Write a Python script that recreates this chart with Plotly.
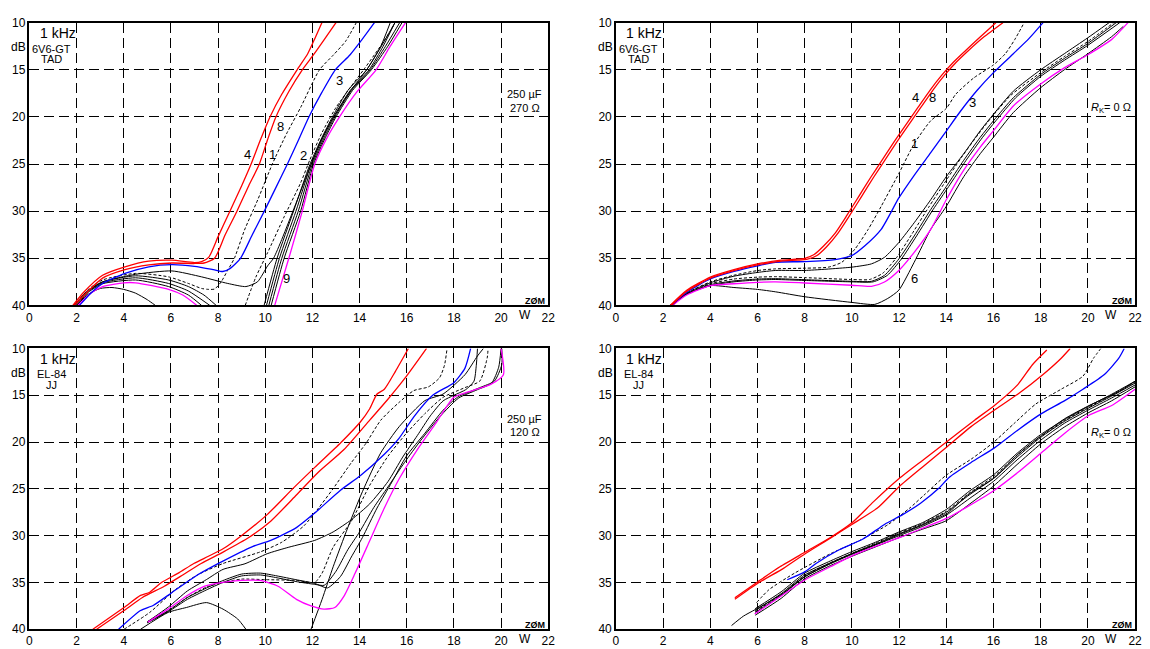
import plotly.graph_objects as go

# ---------------- ticks ----------------
x_ticks = [0, 2, 4, 6, 8, 10, 12, 14, 16, 18, 20, 22]
y_ticks = [10, 15, 20, 25, 30, 35, 40]
x_unit = "W"
y_unit = "dB"

# ================= TOP-LEFT: 6V6-GT TAD, 250 uF / 270 ohm =================
tl_red4_x = [1.84, 2.3, 3.1, 4.05, 5.06, 6.04, 7.0, 7.3, 7.6, 8.0, 8.5, 9.0, 9.4, 9.8, 10.2, 10.7, 11.35, 11.8, 12.1, 12.4]
tl_red4_y = [40, 38.6, 36.8, 35.9, 35.3, 35.2, 35.45, 35.35, 34.9, 32.7, 30.0, 27.3, 25.0, 22.4, 20.0, 17.6, 15.0, 13.3, 11.7, 10]
tl_red8_x = [1.9, 2.4, 3.1, 4.05, 5.06, 6.04, 7.0, 7.4, 7.85, 8.3, 8.8, 9.3, 9.75, 10.1, 10.45, 11.0, 11.57, 12.05, 12.5, 13.0]
tl_red8_y = [40, 38.7, 37.1, 36.2, 35.7, 35.5, 35.55, 35.5, 35.0, 32.5, 30.0, 27.3, 25.0, 22.4, 20.0, 17.3, 15.0, 13.4, 11.8, 10]
tl_blue3_x = [2.12, 2.6, 3.1, 4.05, 5.06, 6.04, 7.0, 7.8, 8.2, 8.5, 8.95, 9.45, 9.96, 10.45, 10.94, 11.4, 11.85, 12.4, 12.97, 13.6, 14.1, 14.63]
tl_blue3_y = [40, 38.7, 37.67, 36.6, 35.9, 35.67, 35.85, 36.2, 36.4, 36.1, 35.0, 32.5, 30.0, 27.5, 25.0, 22.5, 20.0, 17.4, 15.0, 13.4, 11.8, 10]
tl_dash1_x = [1.9, 2.5, 3.1, 4.5, 5.9, 6.74, 7.3, 7.6, 7.85, 8.13, 8.4, 8.69, 9.12, 9.68, 10.3, 10.9, 11.5, 12.3, 12.9, 13.4, 13.86]
tl_dash1_y = [40, 38.3, 37.3, 36.6, 36.97, 37.67, 38.2, 38.3, 38.26, 37.5, 36.3, 35.0, 32.0, 28.8, 25.0, 21.8, 19.0, 15.0, 13.4, 12.0, 10]
tl_dash2_x = [9.15, 9.6, 10.1, 10.8, 11.5, 11.9, 12.4, 13.0, 13.6, 14.2, 14.8, 15.3, 15.5]
tl_dash2_y = [40, 37.0, 34.4, 30.6, 27.0, 24.5, 21.7, 19.0, 16.9, 14.9, 12.8, 10.9, 10]
tl_blk5_x = [1.9, 2.4, 3.1, 4.5, 6.04, 7.3, 8.41, 9.18, 9.67, 10.1, 10.35, 10.7, 11.36, 11.9, 12.4, 12.9, 13.6, 14.3, 14.9, 15.5]
tl_blk5_y = [40, 38.6, 37.5, 36.7, 36.34, 36.97, 37.67, 38.0, 37.5, 35.8, 35.0, 33.0, 28.8, 25.3, 22.3, 20.0, 17.3, 15.0, 12.6, 10]
tl_blk6_x = [1.9, 2.5, 3.1, 4.5, 5.9, 6.74, 7.4, 7.92, None, 9.95, 10.5, 11.2, 11.9, 12.4, 12.85, 13.5, 14.3, 14.9, 15.3]
tl_blk6_y = [40, 38.4, 37.5, 36.86, 37.3, 38.0, 38.9, 40, None, 40, 35.0, 30.0, 25.0, 22.2, 20.0, 17.2, 15.0, 12.5, 10]
tl_blk7_x = [1.95, 2.5, 3.1, 4.5, 5.9, 6.74, 7.65, None, 10.05, 10.6, 11.3, 11.95, 12.45, 12.9, 13.6, 14.4, 15.0, 15.5]
tl_blk7_y = [40, 38.5, 37.6, 37.07, 37.67, 38.47, 40, None, 40, 35.0, 30.0, 25.0, 22.2, 20.0, 17.2, 15.0, 12.5, 10]
tl_blk2_x = [2.0, 2.5, 3.1, 4.5, 5.9, 6.74, 7.3, None, 10.15, 10.7, 11.4, 12.0, 12.5, 12.95, 13.65, 14.45, 15.1, 15.7]
tl_blk2_y = [40, 38.6, 37.7, 37.3, 38.0, 38.9, 40, None, 40, 35.0, 30.0, 25.0, 22.2, 20.0, 17.2, 15.0, 12.5, 10]
tl_blk0_x = [2.0, 2.5, 3.0, 3.5, 4.0, 4.5, 5.0, 5.34, None, 10.25, 10.8, 11.5, 12.05, 12.55, 13.0, 13.7, 14.5, 15.2, 15.8]
tl_blk0_y = [40, 38.8, 38.2, 38.1, 38.3, 38.7, 39.4, 40, None, 40, 35.0, 30.0, 25.0, 22.2, 20.0, 17.2, 15.0, 12.5, 10]
tl_mag9_x = [2.05, 2.6, 3.1, 4.0, 4.5, 5.9, 6.5, 7.1, None, 10.4, 11.0, 11.57, 12.1, 12.6, 13.15, 13.9, 14.7, 15.3, 15.95]
tl_mag9_y = [40, 38.7, 38.0, 37.6, 37.6, 38.3, 38.9, 40, None, 40, 35.0, 30.0, 25.0, 22.3, 20.0, 17.3, 15.0, 12.5, 10]
tl_num_text = ["4", "8", "1", "2", "3", "9"]
tl_num_x = [9.25, 10.65, 10.32, 11.62, 13.15, 10.92]
tl_num_y = [24.0, 21.0, 24.0, 24.1, 16.1, 37.15]

# ================= TOP-RIGHT: 6V6-GT TAD, Rk = 0 =================
tr_red4_x = [2.3, 3.0, 4.0, 5.0, 6.0, 7.0, 7.6, 8.0, 8.4, 8.8, 9.3, 9.8, 10.3, 10.8, 11.3, 11.8, 12.3, 12.8, 13.3, 13.8, 14.3, 14.8, 15.4, 16.1]
tr_red4_y = [40, 38.4, 37.0, 36.2, 35.6, 35.2, 35.1, 35.0, 34.6, 33.7, 32.3, 30.4, 28.4, 26.4, 24.5, 22.6, 20.8, 19.0, 17.2, 15.6, 14.2, 13.0, 11.6, 10]
tr_red8_x = [2.35, 3.0, 4.0, 5.0, 6.0, 7.0, 7.7, 8.12, 8.52, 8.92, 9.42, 9.92, 10.42, 10.92, 11.42, 11.92, 12.42, 12.92, 13.42, 13.92, 14.42, 14.92, 15.6, 16.4]
tr_red8_y = [40, 38.5, 37.1, 36.3, 35.7, 35.3, 35.2, 35.1, 34.7, 33.8, 32.3, 30.4, 28.4, 26.4, 24.5, 22.6, 20.8, 19.0, 17.2, 15.6, 14.2, 13.0, 11.5, 10]
tr_blue3_x = [2.35, 3.0, 4.0, 5.0, 6.0, 6.77, 8.0, 9.29, 9.99, 10.55, 11.24, 11.99, 12.64, 13.34, 14.0, 14.6, 15.3, 16.0, 16.84, 17.5, 18.1]
tr_blue3_y = [40, 38.6, 37.2, 36.4, 35.8, 35.42, 35.35, 35.14, 34.72, 33.67, 31.93, 28.6, 26.2, 23.8, 21.5, 19.4, 17.2, 15.3, 13.3, 11.7, 10]
tr_dash1_x = [2.35, 3.0, 4.0, 5.0, 6.0, 6.77, 8.0, 9.0, 9.57, 10.13, 10.69, 11.24, 11.99, 12.64, 13.34, 14.0, 14.4, 15.16, 16.0, 16.5, 16.9, 17.3]
tr_dash1_y = [40, 38.7, 37.5, 36.8, 36.3, 36.12, 36.05, 35.94, 35.42, 34.02, 31.93, 29.49, 26.0, 22.85, 20.41, 19.1, 17.6, 15.87, 14.48, 13.3, 11.8, 10]
tr_blk2_x = [2.3, 3.0, 4.0, 5.0, 6.0, 6.77, 8.0, 9.99, 10.83, 11.38, 11.99, 12.64, 13.34, 14.0, 14.74, 15.44, 16.0, 16.84, 18.0, 19.0, 20.0, 20.9]
tr_blk2_y = [40, 38.7, 37.6, 36.9, 36.5, 36.29, 36.29, 35.94, 35.59, 34.9, 33.32, 31.23, 28.79, 26.34, 23.9, 21.46, 19.71, 17.27, 15.0, 13.3, 11.6, 10]
tr_blk5_x = [2.3, 3.0, 4.0, 5.0, 6.0, 6.77, 8.0, 9.99, 10.83, 11.38, 11.99, 12.64, 13.34, 14.0, 14.74, 15.44, 16.0, 16.84, 18.0, 19.0, 20.0, 21.2]
tr_blk5_y = [40, 38.8, 37.8, 37.4, 37.2, 37.16, 37.27, 37.44, 37.44, 36.81, 35.07, 32.63, 29.83, 27.39, 24.6, 22.16, 20.41, 17.97, 15.5, 13.8, 12.2, 10]
tr_blk7_x = [2.3, 3.0, 4.0, 5.0, 6.0, 6.77, 8.0, 9.99, 10.9, 11.5, 12.1, 12.74, 13.44, 14.1, 14.84, 15.54, 16.1, 16.94, 18.0, 19.0, 20.0, 21.35]
tr_blk7_y = [40, 38.8, 37.9, 37.5, 37.3, 37.25, 37.35, 37.5, 37.5, 36.81, 35.07, 32.63, 29.83, 27.39, 24.6, 22.16, 20.41, 17.97, 15.7, 14.0, 12.4, 10]
tr_dash2_x = [2.3, 3.0, 4.0, 5.0, 6.0, 6.77, 8.0, 9.99, 10.75, 11.3, 11.9, 12.55, 13.25, 13.9, 14.64, 15.34, 15.9, 16.74, 18.0, 19.0, 20.0, 21.1]
tr_dash2_y = [40, 38.8, 37.7, 37.2, 37.0, 36.95, 37.05, 37.25, 37.25, 36.6, 34.9, 32.4, 29.6, 27.1, 24.3, 21.9, 20.1, 17.7, 15.3, 13.6, 12.0, 10]
tr_mag_x = [2.4, 3.0, 4.0, 5.0, 6.0, 6.77, 8.0, 9.99, 10.83, 11.38, 11.99, 12.64, 13.34, 14.0, 14.74, 15.44, 16.0, 16.84, 18.0, 19.0, 20.0, 21.0, 21.7]
tr_mag_y = [40, 38.9, 37.9, 37.7, 37.55, 37.51, 37.62, 37.86, 37.97, 37.51, 36.29, 34.37, 31.93, 28.79, 25.65, 23.2, 21.46, 18.84, 16.5, 14.8, 13.4, 11.8, 10]
tr_blk6_x = [2.4, 3.0, 4.0, 5.0, 6.0, 6.77, 8.0, 9.99, 10.97, 11.52, 11.99, 12.64, 13.34, 14.0, 14.74, 15.44, 16.0, 16.84, 18.0, 19.0, 20.0, 21.0, 21.5]
tr_blk6_y = [40, 38.8, 37.9, 38.1, 38.3, 38.56, 39.08, 39.68, 39.89, 39.26, 38.38, 35.42, 31.93, 29.49, 26.34, 23.9, 22.16, 19.54, 16.9, 15.0, 13.3, 11.5, 10.4]
tr_num_text = ["4", "8", "3", "1", "6"]
tr_num_x = [12.71, 13.41, 15.09, 12.64, 12.64]
tr_num_y = [17.97, 17.97, 18.49, 22.85, 37.16]

# ================= BOTTOM-LEFT: EL-84 JJ, 250 uF / 120 ohm =================
bl_red_a_x = [2.69, 4.01, 4.71, 5.1, 5.57, 6.35, 6.97, 7.59, 8.21, 8.99, 10.08, 11.17, 12.1, 13.19, 14.04, 14.43, 14.74, 15.05, 15.52, 16.07]
bl_red_a_y = [40, 37.67, 36.38, 36.04, 35.06, 33.95, 32.97, 32.2, 31.4, 30.0, 27.75, 24.97, 22.7, 20.1, 17.83, 16.44, 14.87, 14.35, 12.44, 10]
bl_red_b_x = [2.85, 4.01, 4.79, 5.72, 6.5, 7.28, 8.21, 9.3, 10.23, 11.32, 12.26, 13.34, 14.43, 15.21, 15.99, 16.84]
bl_red_b_y = [40, 38.0, 36.6, 35.4, 34.2, 32.97, 31.75, 30.2, 28.45, 25.66, 23.2, 20.8, 17.66, 15.4, 12.96, 10]
bl_blue_x = [3.78, 4.71, 5.26, 6.03, 7.12, 8.06, 9.46, 10.23, 11.32, 12.1, 13.19, 14.04, 15.05, 15.68, 16.3, 17.1, 18.0, 18.47, 18.71]
bl_blue_y = [40, 38.0, 37.43, 36.1, 34.2, 32.9, 31.16, 30.5, 29.14, 27.58, 25.14, 23.57, 21.3, 19.57, 17.3, 15.0, 13.65, 12.1, 10]
bl_dash_a_x = [4.01, 5.1, 6.19, 7.12, 8.21, 9.77, 10.7, 11.63, 12.26, 12.88, 13.65, 14.28, 14.9, 15.68, 16.3, 16.92, 17.39, 17.6, 17.7]
bl_dash_a_y = [40, 38.2, 35.76, 34.2, 32.97, 31.75, 30.7, 28.97, 27.05, 24.97, 22.2, 20.1, 17.66, 15.75, 14.5, 14.1, 13.13, 11.8, 10.2]
bl_blk_a_x = [5.0, 5.9, 6.7, 7.5, 8.21, 9.14, 10.08, 11.0, 12.1, 12.88, 13.65, 14.43, 15.21, 15.83, 16.45, 17.0, 17.54, 18.0, 18.5, 18.85, 18.95, 19.0]
bl_blk_a_y = [39.2, 37.6, 35.9, 34.7, 33.6, 33.0, 31.93, 31.23, 30.5, 29.6, 28.3, 26.6, 24.2, 21.6, 19.3, 17.2, 15.6, 15.0, 14.4, 13.5, 11.8, 10]
bl_blk_s_x = [4.71, 5.88, 6.66, 7.51, 8.21, 8.83, 9.18, None, 11.94, 12.41, 12.88, 13.5, 14.12, 14.9, 15.68, 16.77, 17.54, 18.47, 19.0, 19.25]
bl_blk_s_y = [40, 38.2, 37.67, 37.15, 37.85, 38.9, 40, None, 40, 36.8, 33.32, 29.14, 25.3, 21.14, 18.35, 15.57, 14.87, 12.8, 10.8, 10]
bl_blk_b_x = [5.0, 5.9, 6.7, 7.5, 8.2, 9.0, 9.8, 10.5, 11.3, 12.1, 12.64, 13.19, 13.65, 14.12, 14.74, 15.37, 15.99, 16.77, 17.54, 18.16, 19.1, 19.72, 20.03, 20.03]
bl_blk_b_y = [39.2, 38.0, 36.6, 35.6, 34.8, 34.1, 34.0, 34.3, 34.7, 35.1, 35.58, 34.36, 32.28, 30.2, 27.05, 24.27, 21.49, 19.05, 16.6, 15.2, 14.18, 13.48, 11.74, 10]
bl_blk_c_x = [5.0, 5.9, 6.7, 7.5, 8.2, 9.0, 9.8, 10.5, 11.3, 12.1, 12.5, 13.0, 13.5, 14.0, 14.6, 15.2, 15.9, 16.6, 17.4, 18.2, 19.0, 19.6, 19.9, 20.0]
bl_blk_c_y = [39.3, 38.1, 36.8, 35.8, 35.0, 34.3, 34.2, 34.5, 34.9, 35.2, 35.3, 33.8, 31.5, 29.6, 27.0, 24.8, 22.2, 19.8, 17.3, 15.3, 14.4, 13.7, 12.0, 10]
bl_dash_b_x = [5.0, 5.9, 6.7, 7.5, 8.21, 8.99, 10.0, 11.32, 12.1, 12.41, 12.88, 13.65, 14.43, 15.21, 15.99, 16.77, 17.54, 18.47, 19.1, 19.41, 19.45]
bl_dash_b_y = [39.3, 38.0, 36.6, 35.5, 35.0, 34.64, 34.7, 34.78, 34.99, 34.0, 31.23, 28.45, 24.62, 21.49, 19.05, 16.96, 15.22, 14.18, 13.48, 11.04, 10]
bl_mag_x = [5.02, 5.88, 6.66, 7.43, 8.21, 8.99, 9.77, 10.54, 11.32, 11.94, 12.49, 12.95, 13.34, 13.81, 14.43, 15.05, 15.68, 16.45, 17.23, 18.0, 18.79, 19.56, 20.1, 20.0]
bl_mag_y = [39.24, 37.85, 36.45, 35.4, 34.99, 34.78, 34.78, 35.4, 36.8, 37.5, 37.85, 37.67, 36.45, 34.02, 30.54, 27.05, 23.92, 20.8, 18.0, 15.22, 14.5, 13.83, 12.8, 10]

# ================= BOTTOM-RIGHT: EL-84 JJ, Rk = 0 =================
br_red_a_x = [5.04, 6.03, 6.95, 8.02, 9.09, 10.0, 10.92, 11.99, 13.06, 14.13, 15.2, 16.04, 17.04, 17.65, 18.26]
br_red_a_y = [36.63, 34.89, 33.32, 31.75, 30.19, 28.62, 26.36, 23.92, 21.83, 19.75, 17.66, 16.09, 13.83, 11.74, 10.17]
br_red_b_x = [5.04, 6.03, 7.1, 8.02, 9.09, 10.0, 11.08, 11.99, 13.06, 14.06, 15.05, 16.12, 17.04, 18.1, 18.87, 19.25]
br_red_b_y = [36.8, 35.06, 33.49, 31.93, 30.26, 28.8, 27.05, 24.79, 22.53, 20.44, 18.35, 16.44, 14.87, 12.78, 11.04, 10]
br_dash_x = [5.96, 6.49, 7.56, 9.09, 10.31, 11.54, 12.45, 13.06, 13.98, 15.05, 15.97, 16.88, 17.8, 18.87, 19.79, 20.24, 20.55]
br_dash_y = [37.15, 35.76, 34.02, 31.93, 30.54, 28.8, 27.05, 25.66, 23.57, 21.83, 20.1, 18.0, 15.92, 14.35, 12.96, 11.04, 10]
br_blue_x = [7.26, 8.02, 8.48, 9.4, 10.47, 11.38, 12.15, 12.91, 13.67, 14.13, 15.05, 16.04, 17.04, 18.03, 19.02, 19.79, 20.7, 21.31, 21.54]
br_blue_y = [34.71, 33.84, 32.97, 31.58, 30.36, 28.8, 27.75, 26.53, 24.97, 23.75, 22.18, 20.62, 18.7, 16.96, 15.57, 14.35, 12.78, 11.04, 10]
br_grid_x = [5.9, 7, 8, 9, 10, 11, 12, 13, 14, 15, 16, 17, 18, 19, 20, 21, 22]
br_blk1_y = [37.8, 36.0, 34.0, 32.8, 31.7, 30.7, 29.6, 28.6, 27.2, 25.2, 23.5, 21.2, 19.2, 17.6, 16.2, 14.9, 13.5]
br_blk2_y = [38.0, 36.2, 34.2, 33.0, 31.9, 30.9, 29.8, 28.8, 27.5, 25.6, 23.9, 21.6, 19.5, 17.8, 16.4, 15.1, 13.7]
br_blk3_y = [38.2, 36.4, 34.4, 33.1, 32.0, 31.0, 30.0, 29.0, 27.8, 26.0, 24.2, 21.9, 19.8, 18.0, 16.6, 15.3, 13.9]
br_blk4_y = [38.5, 36.7, 34.6, 33.3, 32.2, 31.2, 30.2, 29.3, 28.4, 26.6, 24.7, 22.4, 20.2, 18.4, 16.9, 15.6, 14.1]
br_bdash_y = [38.1, 36.3, 34.3, 33.0, 31.9, 30.8, 29.7, 28.7, 27.4, 25.4, 23.7, 21.4, 19.4, 17.7, 16.3, 15.0, 13.6]
br_blk5_x = [4.9, 5.4, 5.9, 7.0, 8.02, 9.09, 10.0, 11.08, 12.04, 13.06, 14.06, 14.9, 16.04, 17.04, 18.03, 19.02, 20.05, 21.31, 22]
br_blk5_y = [39.6, 38.6, 37.9, 36.3, 34.36, 32.97, 31.93, 30.88, 29.84, 28.8, 27.58, 25.66, 23.8, 21.3, 19.3, 17.5, 16.1, 14.6, 13.5]
br_mag_x = [5.88, 6.8, 8.02, 9.09, 10.04, 11.08, 12.04, 13.06, 14.06, 14.9, 16.04, 17.04, 18.03, 19.02, 20.05, 21.01, 22]
br_mag_y = [38.37, 36.8, 34.71, 33.32, 32.1, 31.06, 30.19, 29.14, 28.1, 26.9, 25.14, 23.23, 21.14, 19.05, 17.14, 16.09, 14.35]

# ---------------- panel texts ----------------
panel_freq = "1 kHz"
panel_tube = ["6V6-GT", "6V6-GT", "EL-84", "EL-84"]
panel_make = ["TAD", "TAD", "JJ", "JJ"]
panel_cond1 = ["250 µF", "<i>R</i><sub>K</sub>= 0 Ω", "250 µF", "<i>R</i><sub>K</sub>= 0 Ω"]
panel_cond2 = ["270 Ω", "", "120 Ω", ""]
panel_cond1_y = [17.6, 19.07, 17.5, 18.98]
panel_cond2_y = [19.05, None, 18.95, None]
logo_text = "ZØM"

RED = "#ff0000"
BLUE = "#0000ff"
MAG = "#ff00ff"
BLK = "#000000"
FONT = "Arial, Liberation Sans, sans-serif"

fig = go.Figure()

def add(ax, xs, ys, color, width=1.0, dash="solid"):
    fig.add_trace(go.Scatter(
        x=xs, y=ys, mode="lines", showlegend=False, hoverinfo="skip",
        xaxis="x" + ("" if ax == 1 else str(ax)), yaxis="y" + ("" if ax == 1 else str(ax)),
        line=dict(color=color, width=width, dash=dash, shape="spline", smoothing=0.6),
        connectgaps=False))

DSH = "3px,2px"
# TL
add(1, tl_blk0_x, tl_blk0_y, BLK)
add(1, tl_blk2_x, tl_blk2_y, BLK)
add(1, tl_blk7_x, tl_blk7_y, BLK)
add(1, tl_blk6_x, tl_blk6_y, BLK)
add(1, tl_blk5_x, tl_blk5_y, BLK)
add(1, tl_dash1_x, tl_dash1_y, BLK, 1.0, DSH)
add(1, tl_dash2_x, tl_dash2_y, BLK, 1.0, DSH)
add(1, tl_mag9_x, tl_mag9_y, MAG, 1.3)
add(1, tl_blue3_x, tl_blue3_y, BLUE, 1.3)
add(1, tl_red4_x, tl_red4_y, RED, 1.3)
add(1, tl_red8_x, tl_red8_y, RED, 1.3)
# TR
add(2, tr_blk6_x, tr_blk6_y, BLK)
add(2, tr_blk7_x, tr_blk7_y, BLK)
add(2, tr_blk5_x, tr_blk5_y, BLK)
add(2, tr_dash2_x, tr_dash2_y, BLK, 1.0, DSH)
add(2, tr_blk2_x, tr_blk2_y, BLK)
add(2, tr_dash1_x, tr_dash1_y, BLK, 1.0, DSH)
add(2, tr_mag_x, tr_mag_y, MAG, 1.3)
add(2, tr_blue3_x, tr_blue3_y, BLUE, 1.3)
add(2, tr_red4_x, tr_red4_y, RED, 1.3)
add(2, tr_red8_x, tr_red8_y, RED, 1.3)
# BL
add(3, bl_blk_s_x, bl_blk_s_y, BLK)
add(3, bl_blk_a_x, bl_blk_a_y, BLK)
add(3, bl_blk_b_x, bl_blk_b_y, BLK)
add(3, bl_blk_c_x, bl_blk_c_y, BLK)
add(3, bl_dash_b_x, bl_dash_b_y, BLK, 1.0, DSH)
add(3, bl_dash_a_x, bl_dash_a_y, BLK, 1.0, DSH)
add(3, bl_mag_x, bl_mag_y, MAG, 1.3)
add(3, bl_blue_x, bl_blue_y, BLUE, 1.3)
add(3, bl_red_a_x, bl_red_a_y, RED, 1.3)
add(3, bl_red_b_x, bl_red_b_y, RED, 1.3)
# BR
for yy in (br_blk1_y, br_blk2_y, br_blk3_y, br_blk4_y):
    add(4, br_grid_x, yy, BLK)
add(4, br_grid_x, br_bdash_y, BLK, 1.0, DSH)
add(4, br_blk5_x, br_blk5_y, BLK)
add(4, br_dash_x, br_dash_y, BLK, 1.0, DSH)
add(4, br_mag_x, br_mag_y, MAG, 1.3)
add(4, br_blue_x, br_blue_y, BLUE, 1.3)
add(4, br_red_a_x, br_red_a_y, RED, 1.3)
add(4, br_red_b_x, br_red_b_y, RED, 1.3)

W, H = 1150, 649
xdom = [[26.7 / W, 550 / W], [618.3 / W, 1142 / W]]
ydom = [[1 - 305 / H, 1 - 16 / H], [1 - 636 / H, 1 - 349 / H]]

axis_common = dict(showline=True, mirror=True, linecolor="black", linewidth=1.5,
                   showgrid=True, gridcolor="black", gridwidth=1, griddash="10px,5px",
                   zeroline=False, ticks="", tickfont=dict(family=FONT, size=12, color="black"),
                   fixedrange=True)
layout = dict(width=W, height=H, margin=dict(l=0, r=0, t=0, b=0),
              plot_bgcolor="white", paper_bgcolor="white", showlegend=False)
annotations = []
panels = [(1, 0, 0), (2, 1, 0), (3, 0, 1), (4, 1, 1)]
for ax, c, r in panels:
    sfx = "" if ax == 1 else str(ax)
    layout["xaxis" + sfx] = dict(axis_common, domain=xdom[c], range=[0, 22], tickvals=x_ticks,
                                 anchor="y" + sfx, ticklabelstandoff=0)
    layout["yaxis" + sfx] = dict(axis_common, domain=ydom[r], range=[40, 10], tickvals=y_ticks,
                                 anchor="x" + sfx, ticklabelstandoff=0)
    xr, yr = "x" + sfx, "y" + sfx
    annotations += [
        dict(x=0.35, y=11.1, xref=xr, yref=yr, text=panel_freq, showarrow=False, xanchor="left",
             font=dict(family=FONT, size=14, color="black")),
        dict(x=0.95, y=12.75, xref=xr, yref=yr, text=panel_tube[ax - 1], showarrow=False,
             font=dict(family=FONT, size=11, color="black")),
        dict(x=0.95, y=13.85, xref=xr, yref=yr, text=panel_make[ax - 1], showarrow=False,
             font=dict(family=FONT, size=11, color="black")),
        dict(x=0, y=12.6, xref=xr, yref=yr, text=y_unit, showarrow=False, xanchor="right", xshift=-1,
             font=dict(family=FONT, size=12, color="black")),
        dict(x=21.0, y=40, xref=xr, yref=yr, text=x_unit, showarrow=False, yanchor="top", yshift=-1,
             font=dict(family=FONT, size=12, color="black")),
        dict(x=21.45, y=39.5, xref=xr, yref=yr, text=logo_text, showarrow=False,
             font=dict(family=FONT, size=9, color="black", weight="bold")),
        dict(x=21.0, y=panel_cond1_y[ax - 1], xref=xr, yref=yr, text=panel_cond1[ax - 1], showarrow=False,
             font=dict(family=FONT, size=11, color="black")),
    ]
    if panel_cond2[ax - 1]:
        annotations.append(dict(x=21.0, y=panel_cond2_y[ax - 1], xref=xr, yref=yr, text=panel_cond2[ax - 1],
                                showarrow=False, font=dict(family=FONT, size=11, color="black")))

for t, x, y in zip(tl_num_text, tl_num_x, tl_num_y):
    annotations.append(dict(x=x, y=y, xref="x", yref="y", text=t, showarrow=False,
                            font=dict(family=FONT, size=13, color="black")))
for t, x, y in zip(tr_num_text, tr_num_x, tr_num_y):
    annotations.append(dict(x=x, y=y, xref="x2", yref="y2", text=t, showarrow=False,
                            font=dict(family=FONT, size=13, color="black")))

layout["annotations"] = annotations
fig.update_layout(**layout)
fig.write_html("out.html")
